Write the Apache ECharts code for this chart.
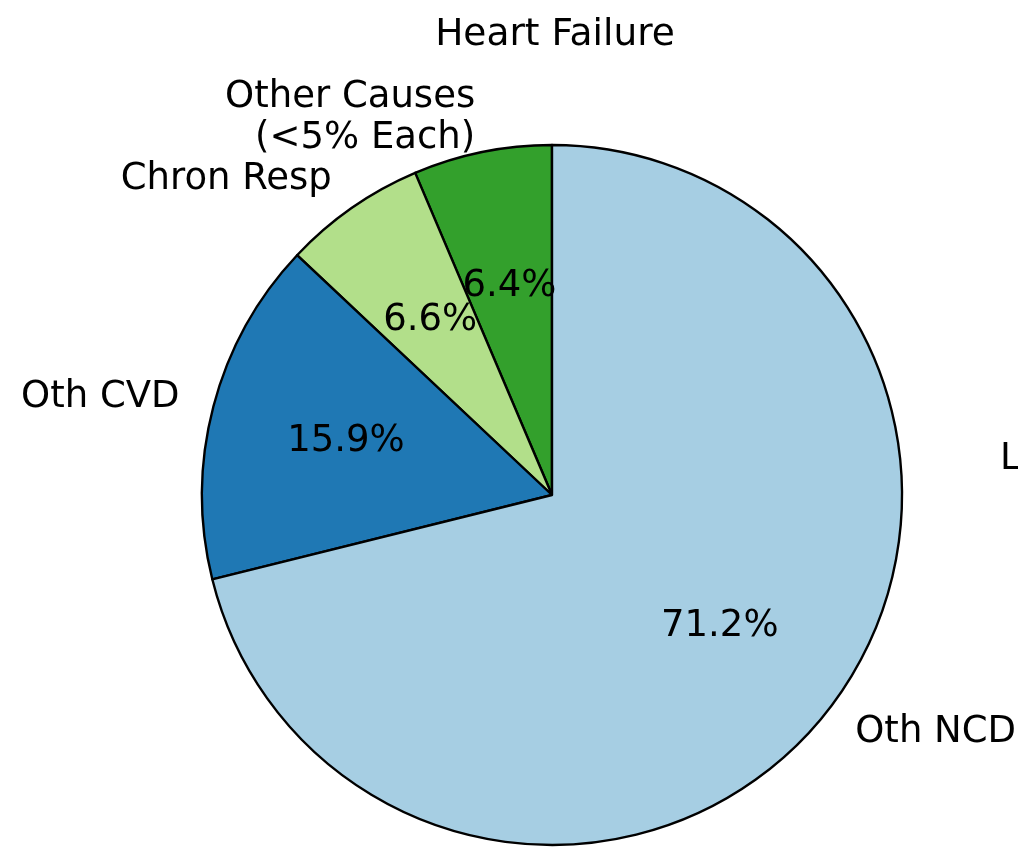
<!DOCTYPE html>
<html>
<head>
<meta charset="utf-8">
<script src="https://cdn.jsdelivr.net/npm/echarts@6/dist/echarts.min.js"></script>
<style>
  html, body { margin: 0; padding: 0; background: #fff; }
  #chart { width: 1018px; height: 852px; }
</style>
</head>
<body>
<div id="chart"></div>
<script>
  // slices, counter-clockwise from 12 o'clock
  const categories = ['Other Causes\n(<5% Each)', 'Chron Resp', 'Oth CVD', 'Oth NCD'];
  const shares = [6.4, 6.6, 15.9, 71.2];
  const sliceColors = ['#33a02c', '#b2df8a', '#1f78b4', '#a6cee3'];
  const titleText = 'Heart Failure';
  const sideText = 'L';

  const FONT = 'DejaVu Sans';
  const chart = echarts.init(document.getElementById('chart'));

  const pieData = categories.map((name, i) => ({
    name: name,
    value: shares[i],
    itemStyle: { color: sliceColors[i] }
  }));

  const option = {
    animation: false,
    graphic: [
      {
        type: 'text',
        x: 555,
        y: 35,
        style: {
          text: titleText,
          font: '37.5px "DejaVu Sans"',
          fill: '#000',
          align: 'center',
          verticalAlign: 'middle'
        }
      },
      {
        type: 'text',
        x: 1000,
        y: 459,
        style: {
          text: sideText,
          font: '37px "DejaVu Sans"',
          fill: '#000',
          align: 'left',
          verticalAlign: 'middle'
        }
      }
    ],
    series: [
      {
        type: 'pie',
        left: 0,
        top: 0,
        width: 1600,
        height: 852,
        center: [552, 495],
        radius: [0, 350],
        startAngle: 90,
        clockwise: false,
        avoidLabelOverlap: false,
        silent: true,
        itemStyle: { borderColor: '#000', borderWidth: 2.4 },
        label: {
          show: true,
          position: 'outside',
          distanceToLabelLine: 0,
          fontFamily: FONT,
          fontSize: 37,
          lineHeight: 41,
          color: '#000',
          overflow: 'none'
        },
        labelLine: { show: false, length: 35, length2: 0 },
        labelLayout: { hideOverlap: false },
        emphasis: { disabled: true },
        data: pieData
      },
      {
        type: 'pie',
        left: 0,
        top: 0,
        width: 1600,
        height: 852,
        center: [552, 495],
        radius: [70, 350],
        startAngle: 90,
        clockwise: false,
        avoidLabelOverlap: false,
        silent: true,
        itemStyle: { color: 'rgba(0,0,0,0)', borderWidth: 0 },
        label: {
          show: true,
          position: 'inside',
          fontFamily: FONT,
          fontSize: 37,
          color: '#000',
          formatter: (p) => p.value.toFixed(1) + '%'
        },
        labelLine: { show: false },
        labelLayout: { hideOverlap: false },
        emphasis: { disabled: true },
        data: categories.map((name, i) => ({ name: name, value: shares[i] }))
      }
    ]
  };

  chart.setOption(option);
</script>
</body>
</html>
